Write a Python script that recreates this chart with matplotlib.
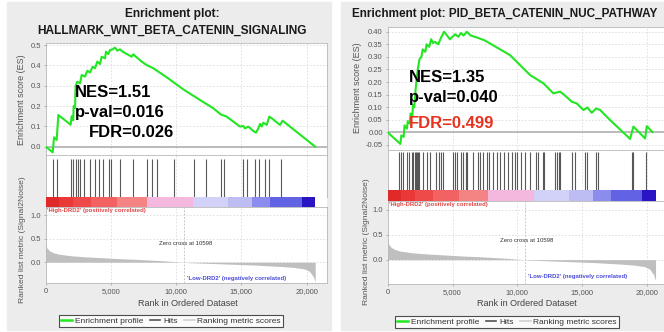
import numpy as np
import matplotlib.pyplot as plt
from matplotlib.patches import Rectangle
from matplotlib.lines import Line2D

plt.rcParams['font.family'] = ['Liberation Sans', 'DejaVu Sans']

# ---- left panel: HALLMARK_WNT_BETA_CATENIN_SIGNALING ----
wnt_rank = [0, 536, 640, 840, 968, 1910, 1990, 2110, 2140, 2250, 2290, 2424, 2628,
            2756, 3011, 3190, 3394, 3598, 3777, 3956, 4160, 4288, 4544, 4620, 4799,
            4927, 5131, 5310, 5489, 5693, 5897, 6587, 6714, 6842, 7353, 7736, 8247,
            9268, 10546, 11823, 12845, 13407, 13867, 14889, 15144, 15272, 15527,
            15911, 16115, 16294, 16422, 16549, 16677, 16933, 17137, 17316, 17954,
            18158, 18465, 20650]
wnt_es = [0.0, -0.028, 0.046, 0.033, 0.156, 0.108, 0.150, 0.130, 0.200, 0.190, 0.300,
          0.320, 0.312, 0.353, 0.345, 0.374, 0.365, 0.394, 0.386, 0.419, 0.407, 0.443,
          0.435, 0.468, 0.456, 0.476, 0.479, 0.488, 0.473, 0.479, 0.468, 0.443, 0.455,
          0.447, 0.419, 0.402, 0.386, 0.342, 0.282, 0.230, 0.189, 0.159, 0.148, 0.099,
          0.102, 0.090, 0.099, 0.077, 0.069, 0.090, 0.112, 0.099, 0.118, 0.107, 0.148,
          0.140, 0.107, 0.128, 0.112, 0.0]
wnt_hits = [582, 889, 1915, 2115, 2299, 2452, 2628, 2958, 3395, 3801, 4107, 4414,
            4820, 4973, 5693, 6667, 7786, 8123, 8506, 9839, 11387, 12261, 13410,
            13686, 15096, 15448, 16038, 16345, 16805, 17134, 18030]

# ---- right panel: PID_BETA_CATENIN_NUC_PATHWAY ----
pid_rank = [0, 980, 1050, 1230, 1300, 1480, 1550, 1700, 1760, 1900, 1950, 2050, 2150,
            2250, 2350, 2450, 2600, 2700, 2900, 3000, 3200, 3350, 3500, 3650, 3900,
            4100, 4350, 4800, 5200, 5450, 5650, 5850, 6100, 6400, 6700, 7000, 7500,
            8000, 8500, 9434, 10977, 12005, 12776, 13290, 13548, 14190, 14576, 15090,
            15398, 15733, 16067, 16375, 17147, 18689, 18946, 19846, 19974, 20411]
pid_es = [0.0, -0.046, -0.012, -0.018, 0.028, 0.015, 0.045, 0.035, 0.075, 0.065, 0.11,
          0.10, 0.17, 0.22, 0.26, 0.29, 0.30, 0.33, 0.32, 0.35, 0.34, 0.37, 0.355,
          0.36, 0.35, 0.375, 0.40, 0.37, 0.39, 0.38, 0.395, 0.385, 0.40, 0.385, 0.38,
          0.375, 0.365, 0.35, 0.335, 0.307, 0.228, 0.195, 0.155, 0.162, 0.152, 0.122,
          0.115, 0.089, 0.099, 0.078, 0.095, 0.089, 0.049, -0.026, 0.023, -0.024,
          0.025, 0.001]
pid_hits = [897, 1028, 1205, 1514, 1668, 1853, 1976, 2069, 2161, 2261, 2339, 2439,
            2701, 3009, 3264, 3726, 3981, 4112, 4289, 5014, 5191, 5369, 5631, 5831,
            6040, 6140, 6602, 6988, 7119, 7373, 7682, 7836, 8144, 8406, 8661, 8969,
            9301, 9563, 9817, 9995, 10257, 10588, 10974, 11436, 11614, 12000, 12077,
            12901, 13032, 13233, 13287, 14189, 14444, 15215, 15346, 16063, 16241,
            18813, 18937, 19917]

# ---- ranked list metric (same dataset for both) ----
metric_rank = [0, 100, 300, 600, 1000, 2000, 3000, 4000, 5000, 6000, 7000, 8000, 9000,
               10000, 10598, 11000, 12000, 13000, 14000, 15000, 16000, 17000, 18000,
               19000, 19800, 20200, 20500, 20650]
metric_val = [0.37, 0.30, 0.24, 0.20, 0.17, 0.135, 0.115, 0.10, 0.085, 0.07, 0.06, 0.045,
              0.03, 0.01, 0.0, -0.01, -0.02, -0.03, -0.04, -0.05, -0.06, -0.075, -0.09,
              -0.11, -0.14, -0.19, -0.30, -0.42]
zero_cross = 10598

band_edges = [0, 1000, 2100, 3500, 5460, 7760, 11290, 13970, 15810, 17190, 19640, 20650]
band_colors = ['#e02a2a', '#e83838', '#ee4a4a', '#f26262', '#f48484', '#f4b8df',
               '#d2d2f8', '#bdbdf4', '#8c8cee', '#6262e4', '#2a14c4']

W, H = 664, 332
GREEN = '#22e622'
TXT = '#555555'


def box(x0, y0, x1, y1):
    return [x0 / W, 1 - y1 / H, (x1 - x0) / W, (y1 - y0) / H]


def style(ax, xmax):
    ax.set_xlim(0, xmax)
    ax.set_facecolor('white')
    for s in ax.spines.values():
        s.set_color('#b8b8b8')
        s.set_linewidth(0.6)
    ax.tick_params(length=1.5, width=0.5, color='#999999', labelsize=5.5,
                   labelcolor=TXT, pad=2)
    ax.set_xticks([0, 5000, 10000, 15000, 20000])
    ax.grid(True, ls=(0, (2, 2)), color='#dcdcdc', lw=0.6)
    ax.set_axisbelow(True)


def panel(fig, px0, px1, xmax, ys, es_lim, es_ticks, es_fmt, ranks, es, hits,
          hit_top, stats, stat_y, title_lines, title_x, title_y, title_size,
          ylab_x, ylab_es_y, ylab_met_y, xlab_x, met_lim, legend_box):
    y_es0, y_es1, y_hit1, y_bar1, y_met1 = ys
    ax_es = fig.add_axes(box(px0, y_es0, px1, y_es1))
    ax_hit = fig.add_axes(box(px0, y_es1, px1, y_hit1))
    ax_bar = fig.add_axes(box(px0, y_hit1, px1, y_bar1))
    ax_met = fig.add_axes(box(px0, y_bar1, px1, y_met1))

    style(ax_es, xmax)
    ax_es.plot(ranks, es, color=GREEN, lw=1.5, zorder=3)
    ax_es.axhline(0, color='#b0b0b0', lw=1.2, zorder=2)
    ax_es.set_ylim(*es_lim)
    ax_es.set_yticks(es_ticks)
    ax_es.set_yticklabels([es_fmt.format(t) for t in es_ticks])
    ax_es.tick_params(labelbottom=False)

    style(ax_hit, xmax)
    ax_hit.vlines(hits, 0, hit_top, color='#3c3c3c', lw=0.8, alpha=0.85)
    ax_hit.set_ylim(0, 1)
    ax_hit.set_yticks([])
    ax_hit.tick_params(labelbottom=False, length=0)

    ax_bar.set_xlim(0, xmax)
    for i in range(len(band_colors)):
        ax_bar.axvspan(band_edges[i], band_edges[i + 1], color=band_colors[i], lw=0)
    ax_bar.set_xticks([])
    ax_bar.set_yticks([])
    for s in ax_bar.spines.values():
        s.set_visible(False)

    style(ax_met, xmax)
    ax_met.fill_between(metric_rank, metric_val, 0, color='#bfbfbf', lw=0)
    ax_met.axvline(zero_cross, color='#c8c8c8', lw=0.7, ls=(0, (2, 1.5)))
    ax_met.set_ylim(*met_lim)
    ax_met.set_yticks([0.0, 0.5, 1.0])
    ax_met.set_yticklabels(['0.0', '0.5', '1.0'])
    ax_met.set_xticklabels(['0', '5,000', '10,000', '15,000', '20,000'])
    ax_met.text(100, met_lim[1] - 0.02, "'High-DRD2' (positively correlated)",
                color='#e04848', fontsize=4.3, va='top', fontweight='bold')
    ax_met.text(zero_cross + 100, 0.39, 'Zero cross at 10598', color='#333333',
                fontsize=4.3, ha='center', va='center')
    ax_met.text(zero_cross + 250, -0.335, "'Low-DRD2' (negatively correlated)",
                color='#4a4ad8', fontsize=4.3, va='center', fontweight='bold')

    for (txt, col), (sx, sy) in zip(stats, stat_y):
        fig.text(sx / W, 1 - sy / H, txt, color=col, fontsize=12, fontweight='bold',
                 va='baseline')

    for t, ty in zip(title_lines, title_y):
        fig.text(title_x / W, 1 - ty / H, t, fontsize=title_size, fontweight='bold',
                 ha='center', va='center', color='#1a1a1a')

    fig.text(ylab_x[0] / W, 1 - ylab_es_y / H, 'Enrichment score (ES)', rotation=90,
             fontsize=6.5, color=TXT, ha='center', va='center')
    fig.text(ylab_x[1] / W, 1 - ylab_met_y / H, 'Ranked list metric (Signal2Noise)',
             rotation=90, fontsize=6.1, color=TXT, ha='center', va='center')
    fig.text(xlab_x / W, 1 - 304 / H, 'Rank in Ordered Dataset', fontsize=6.5,
             color='#444444', ha='center', va='center')

    handles = [Line2D([], [], color=GREEN, lw=1.8),
               Line2D([], [], color='#555555', lw=1.2),
               Line2D([], [], color='#d0d0d0', lw=1.2)]
    lx0, ly0, lx1, ly1 = legend_box
    fig.legend(handles, ['Enrichment profile', 'Hits', 'Ranking metric scores'],
               loc='center', bbox_to_anchor=((lx0 + lx1) / 2 / W, 1 - (ly0 + ly1) / 2 / H),
               ncol=3, fontsize=6.0, frameon=True, fancybox=False, edgecolor='#222222',
               handlelength=1.3, handletextpad=0.3, columnspacing=0.8,
               borderpad=0.25, labelcolor='#333333').get_frame().set_linewidth(0.8)


fig = plt.figure(figsize=(6.64, 3.32), dpi=100)
fig.patches.append(Rectangle((7 / W, 2 / H), (331 - 7) / W, (330 - 2) / H,
                             transform=fig.transFigure, color='#ececec', zorder=-1))
fig.patches.append(Rectangle((341 / W, 2 / H), (664 - 341) / W, (330 - 2) / H,
                             transform=fig.transFigure, color='#ececec', zorder=-1))

panel(fig, 45.7, 327, 21556, (42.7, 155, 196.7, 206.7, 283.3),
      (-0.041, 0.512), [0.0, 0.1, 0.2, 0.3, 0.4, 0.5], '{:.1f}',
      wnt_rank, wnt_es, wnt_hits, 0.9,
      [('NES=1.51', 'black'), ('p-val=0.016', 'black'), ('FDR=0.026', 'black')],
      [(75, 97), (75, 116.7), (89, 137)],
      ['Enrichment plot:', 'HALLMARK_WNT_BETA_CATENIN_SIGNALING'], 172, [14, 31], 8.6,
      (22, 23), 100, 240, 188, (-0.447, 1.177), (59, 314, 283, 328))

panel(fig, 387.7, 664, 21303, (26.7, 150, 190, 201, 284),
      (-0.070, 0.42), [-0.05, 0.0, 0.05, 0.10, 0.15, 0.20, 0.25, 0.30, 0.35, 0.40],
      '{:.2f}', pid_rank, pid_es, pid_hits, 0.95,
      [('NES=1.35', 'black'), ('p-val=0.040', 'black'), ('FDR=0.499', '#e8321e')],
      [(408.7, 82.3), (408.7, 101.7), (408.7, 127.5)],
      ['Enrichment plot: PID_BETA_CATENIN_NUC_PATHWAY'], 505, [14], 8.5,
      (357, 367), 88, 242, 527, (-0.49, 1.18), (395, 314, 619, 330))

fig.savefig('out.png', dpi=100)
